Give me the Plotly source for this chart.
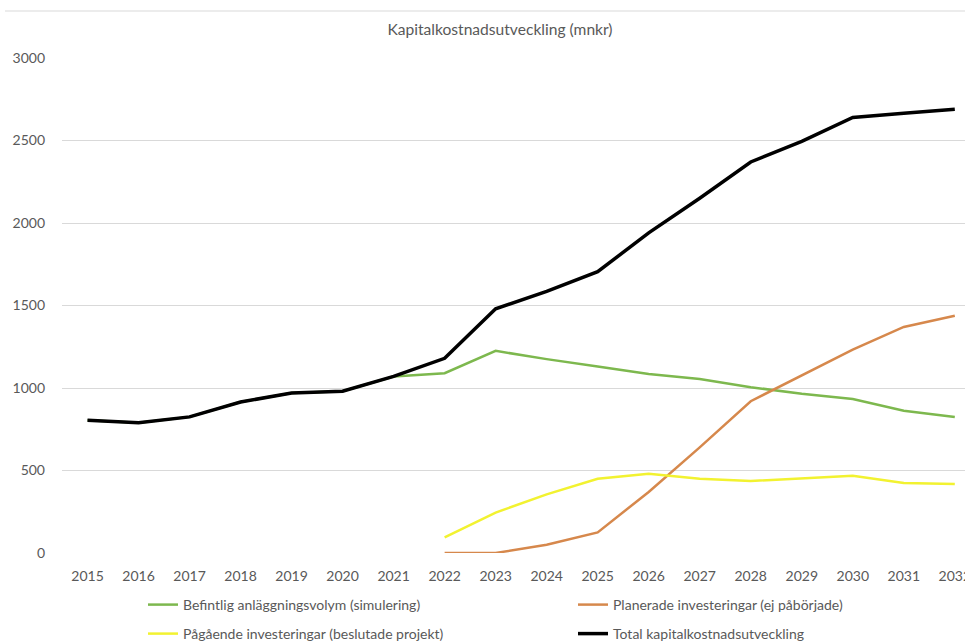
import plotly.graph_objects as go

# Årtal och kapitalkostnader (mnkr)
years = [str(y) for y in range(2015, 2033)]

befintlig = [805, 790, 825, 915, 970, 980, 1070, 1090, 1225, 1175, 1130, 1085, 1055, 1005, 965, 933, 862, 824]
planerade = [None] * 7 + [0, 0, 50, 125, 370, 640, 920, 1075, 1232, 1370, 1438]
pagaende = [None] * 7 + [95, 245, 355, 450, 480, 450, 436, 450, 468, 424, 418]
total = [805, 790, 825, 915, 970, 980, 1070, 1180, 1480, 1585, 1705, 1940, 2150, 2370, 2495, 2640, 2665, 2690]

names = [
    "Befintlig anläggningsvolym (simulering)",
    "Planerade investeringar (ej påbörjade)",
    "Pågående investeringar (beslutade projekt)",
    "Total kapitalkostnadsutveckling",
]
colors = ["#7DB84E", "#D6884C", "#F2F230", "#000000"]
widths = [2.5, 2.5, 2.5, 3.5]
series = [befintlig, planerade, pagaende, total]
legend_ids = ["legend", "legend2", "legend3", "legend4"]

FONT = "Lato, sans-serif"
TXT = "#595959"

fig = go.Figure()
for vals, name, col, w, lg in zip(series, names, colors, widths, legend_ids):
    fig.add_trace(go.Scatter(
        x=years, y=vals, name=name, mode="lines",
        line=dict(color=col, width=w), legend=lg, connectgaps=False,
    ))

W, H = 965, 644
# legend positions (pixels): left x, row centre y
leg_pos = {"legend": (143, 605), "legend2": (573, 605), "legend3": (143, 634), "legend4": (573, 634)}
legends = {}
for lg, (px, py) in leg_pos.items():
    legends[lg] = dict(
        xref="container", yref="container", x=px / W, y=1 - py / H,
        xanchor="left", yanchor="middle", bgcolor="rgba(0,0,0,0)",
        font=dict(family=FONT, size=14, color=TXT),
    )

fig.update_layout(
    width=W, height=H,
    margin=dict(l=62, r=0, t=58, b=91, autoexpand=False),
    paper_bgcolor="white", plot_bgcolor="white",
    title=dict(text="Kapitalkostnadsutveckling (mnkr)", xref="container", yref="container",
               x=500 / W, y=1 - 30 / H, xanchor="center", yanchor="middle",
               font=dict(family=FONT, size=15.6, color=TXT)),
    font=dict(family=FONT, size=14, color=TXT),
    showlegend=True,
    **legends,
)
fig.update_xaxes(
    type="category", range=[-0.5, 17.2], showgrid=False, zeroline=False, showline=False,
    ticks="", tickfont=dict(family=FONT, size=14, color=TXT), ticklabelstandoff=13,
    automargin=False,
)
fig.update_yaxes(
    range=[0, 3000], dtick=500, showgrid=True, gridcolor="#D9D9D9", gridwidth=1,
    zeroline=False, showline=False, ticks="",
    tickfont=dict(family=FONT, size=14, color=TXT), ticklabelstandoff=16,
    automargin=False,
)
# thin border line across the top of the chart area
fig.add_shape(type="line", xref="paper", yref="paper",
              x0=(5 - 62) / 903, x1=1.0, y0=(553 - 11) / 495, y1=(553 - 11) / 495,
              line=dict(color="#D9D9D9", width=1))

fig.write_html("out.html")
